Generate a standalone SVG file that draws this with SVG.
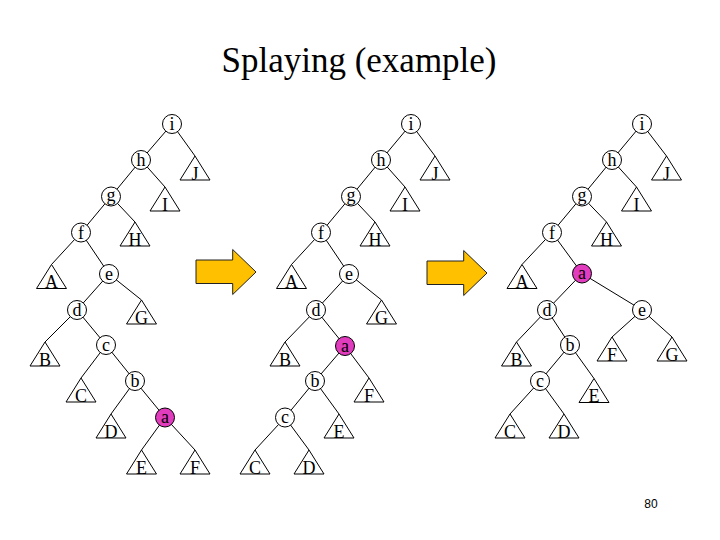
<svg xmlns="http://www.w3.org/2000/svg" width="720" height="540" viewBox="0 0 720 540">
<style>
.edge{stroke:#000;stroke-width:1;fill:none}
.nd{fill:#fff;stroke:#000;stroke-width:1}
.hl{fill:#E13BBE;stroke:#000;stroke-width:1}
.tri{fill:#fff;stroke:#000;stroke-width:1}
.lb{font-family:"Liberation Serif","Times New Roman",serif;font-size:18px;text-anchor:middle;fill:#000}
.tl{font-family:"Liberation Serif","Times New Roman",serif;font-size:18px;text-anchor:middle;fill:#000}
.arr{fill:#FFC000;stroke:#222;stroke-width:1}
</style>
<defs>
<polygon id="tri" class="tri" points="0,0 -15,24 15,24"/>
<path id="arrow" class="arr" d="M0,0 H36.7 V-10.5 L60,12 L36.7,34.5 V23.5 H0 Z"/>
</defs>
<rect width="720" height="540" fill="#fff"/>
<text x="359" y="72" font-family="Liberation Serif,'Times New Roman',serif" font-size="35" text-anchor="middle">Splaying (example)</text>

<g id="arrows">
<use href="#arrow" x="196" y="260"/>
<use href="#arrow" x="427" y="261"/>
</g>

<g id="connectors">
<!-- left tree -->
<line class="edge" x1="172" y1="124" x2="141" y2="160"/>
<line class="edge" x1="172" y1="124" x2="195" y2="156"/>
<line class="edge" x1="141" y1="160" x2="111" y2="196.5"/>
<line class="edge" x1="141" y1="160" x2="165" y2="187"/>
<line class="edge" x1="111" y1="196.5" x2="81" y2="232.5"/>
<line class="edge" x1="111" y1="196.5" x2="135" y2="222"/>
<line class="edge" x1="81" y1="232.5" x2="51.5" y2="264.5"/>
<line class="edge" x1="81" y1="232.5" x2="109" y2="274"/>
<line class="edge" x1="109" y1="274" x2="77" y2="310"/>
<line class="edge" x1="109" y1="274" x2="141.5" y2="300"/>
<line class="edge" x1="77" y1="310" x2="45" y2="342"/>
<line class="edge" x1="77" y1="310" x2="106" y2="345"/>
<line class="edge" x1="106" y1="345" x2="81" y2="378"/>
<line class="edge" x1="106" y1="345" x2="135" y2="381"/>
<line class="edge" x1="135" y1="381" x2="111" y2="414"/>
<line class="edge" x1="135" y1="381" x2="165" y2="417.5"/>
<line class="edge" x1="165" y1="417.5" x2="141.5" y2="450"/>
<line class="edge" x1="165" y1="417.5" x2="195" y2="450"/>
<!-- middle tree -->
<line class="edge" x1="411" y1="124" x2="381" y2="160"/>
<line class="edge" x1="411" y1="124" x2="435" y2="156"/>
<line class="edge" x1="381" y1="160" x2="351" y2="196.5"/>
<line class="edge" x1="381" y1="160" x2="405" y2="187"/>
<line class="edge" x1="351" y1="196.5" x2="321" y2="232.5"/>
<line class="edge" x1="351" y1="196.5" x2="375" y2="222"/>
<line class="edge" x1="321" y1="232.5" x2="291.5" y2="264.5"/>
<line class="edge" x1="321" y1="232.5" x2="349" y2="274"/>
<line class="edge" x1="349" y1="274" x2="316" y2="310"/>
<line class="edge" x1="349" y1="274" x2="381.5" y2="300"/>
<line class="edge" x1="316" y1="310" x2="285" y2="342"/>
<line class="edge" x1="316" y1="310" x2="345" y2="346"/>
<line class="edge" x1="345" y1="346" x2="315" y2="381"/>
<line class="edge" x1="345" y1="346" x2="369" y2="378"/>
<line class="edge" x1="315" y1="381" x2="285" y2="417.5"/>
<line class="edge" x1="315" y1="381" x2="339" y2="414"/>
<line class="edge" x1="285" y1="417.5" x2="255" y2="450"/>
<line class="edge" x1="285" y1="417.5" x2="309" y2="450"/>
<!-- right tree -->
<line class="edge" x1="642" y1="124" x2="612" y2="160"/>
<line class="edge" x1="642" y1="124" x2="666.5" y2="156"/>
<line class="edge" x1="612" y1="160" x2="582" y2="196.5"/>
<line class="edge" x1="612" y1="160" x2="636.5" y2="187"/>
<line class="edge" x1="582" y1="196.5" x2="552" y2="232.5"/>
<line class="edge" x1="582" y1="196.5" x2="606.5" y2="222"/>
<line class="edge" x1="552" y1="232.5" x2="522" y2="264.5"/>
<line class="edge" x1="552" y1="232.5" x2="582" y2="273.5"/>
<line class="edge" x1="582" y1="273.5" x2="547" y2="310"/>
<line class="edge" x1="582" y1="273.5" x2="642" y2="310"/>
<line class="edge" x1="547" y1="310" x2="516.5" y2="342"/>
<line class="edge" x1="547" y1="310" x2="570" y2="345"/>
<line class="edge" x1="570" y1="345" x2="540" y2="381"/>
<line class="edge" x1="570" y1="345" x2="594" y2="378.5"/>
<line class="edge" x1="540" y1="381" x2="510" y2="414"/>
<line class="edge" x1="540" y1="381" x2="564" y2="414"/>
<line class="edge" x1="642" y1="310" x2="612" y2="337"/>
<line class="edge" x1="642" y1="310" x2="672" y2="337"/>
</g>

<!-- left tree nodes -->
<g id="L-i"><circle class="nd" cx="172" cy="124" r="9.5"/><text class="lb" x="172" y="130">i</text></g>
<g id="L-h"><circle class="nd" cx="141" cy="160" r="9.5"/><text class="lb" x="141" y="166">h</text></g>
<g id="L-g"><circle class="nd" cx="111" cy="196.5" r="9.5"/><text class="lb" x="111" y="201">g</text></g>
<g id="L-f"><circle class="nd" cx="81" cy="232.5" r="9.5"/><text class="lb" x="81" y="238.5">f</text></g>
<g id="L-e"><circle class="nd" cx="109" cy="274" r="9.5"/><text class="lb" x="109" y="279.5">e</text></g>
<g id="L-d"><circle class="nd" cx="77" cy="310" r="9.5"/><text class="lb" x="77" y="316">d</text></g>
<g id="L-c"><circle class="nd" cx="106" cy="345" r="9.5"/><text class="lb" x="106" y="350.5">c</text></g>
<g id="L-b"><circle class="nd" cx="135" cy="381" r="9.5"/><text class="lb" x="135" y="387">b</text></g>
<g id="L-a"><circle class="hl" cx="165" cy="417.5" r="9.5"/><text class="lb" x="165" y="423">a</text></g>
<g id="L-J"><use href="#tri" x="195" y="156"/><text class="tl" x="195" y="179.5">J</text></g>
<g id="L-I"><use href="#tri" x="165" y="187"/><text class="tl" x="165" y="210.5">I</text></g>
<g id="L-H"><use href="#tri" x="135" y="222"/><text class="tl" x="135" y="245.5">H</text></g>
<g id="L-A"><use href="#tri" x="51.5" y="264.5"/><text class="tl" x="51.5" y="288">A</text></g>
<g id="L-G"><use href="#tri" x="141.5" y="300"/><text class="tl" x="141.5" y="323.5">G</text></g>
<g id="L-B"><use href="#tri" x="45" y="342"/><text class="tl" x="45" y="365.5">B</text></g>
<g id="L-C"><use href="#tri" x="81" y="378"/><text class="tl" x="81" y="401.5">C</text></g>
<g id="L-D"><use href="#tri" x="111" y="414"/><text class="tl" x="111" y="437.5">D</text></g>
<g id="L-E"><use href="#tri" x="141.5" y="450"/><text class="tl" x="141.5" y="473.5">E</text></g>
<g id="L-F"><use href="#tri" x="195" y="450"/><text class="tl" x="195" y="473.5">F</text></g>

<!-- middle tree nodes -->
<g id="M-i"><circle class="nd" cx="411" cy="124" r="9.5"/><text class="lb" x="411" y="130">i</text></g>
<g id="M-h"><circle class="nd" cx="381" cy="160" r="9.5"/><text class="lb" x="381" y="166">h</text></g>
<g id="M-g"><circle class="nd" cx="351" cy="196.5" r="9.5"/><text class="lb" x="351" y="201">g</text></g>
<g id="M-f"><circle class="nd" cx="321" cy="232.5" r="9.5"/><text class="lb" x="321" y="238.5">f</text></g>
<g id="M-e"><circle class="nd" cx="349" cy="274" r="9.5"/><text class="lb" x="349" y="279.5">e</text></g>
<g id="M-d"><circle class="nd" cx="316" cy="310" r="9.5"/><text class="lb" x="316" y="316">d</text></g>
<g id="M-a"><circle class="hl" cx="345" cy="346" r="9.5"/><text class="lb" x="345" y="351.5">a</text></g>
<g id="M-b"><circle class="nd" cx="315" cy="381" r="9.5"/><text class="lb" x="315" y="387">b</text></g>
<g id="M-c"><circle class="nd" cx="285" cy="417.5" r="9.5"/><text class="lb" x="285" y="423">c</text></g>
<g id="M-J"><use href="#tri" x="435" y="156"/><text class="tl" x="435" y="179.5">J</text></g>
<g id="M-I"><use href="#tri" x="405" y="187"/><text class="tl" x="405" y="210.5">I</text></g>
<g id="M-H"><use href="#tri" x="375" y="222"/><text class="tl" x="375" y="245.5">H</text></g>
<g id="M-A"><use href="#tri" x="291.5" y="264.5"/><text class="tl" x="291.5" y="288">A</text></g>
<g id="M-G"><use href="#tri" x="381.5" y="300"/><text class="tl" x="381.5" y="323.5">G</text></g>
<g id="M-B"><use href="#tri" x="285" y="342"/><text class="tl" x="285" y="365.5">B</text></g>
<g id="M-F"><use href="#tri" x="369" y="378"/><text class="tl" x="369" y="401.5">F</text></g>
<g id="M-E"><use href="#tri" x="339" y="414"/><text class="tl" x="339" y="437.5">E</text></g>
<g id="M-C"><use href="#tri" x="255" y="450"/><text class="tl" x="255" y="473.5">C</text></g>
<g id="M-D"><use href="#tri" x="309" y="450"/><text class="tl" x="309" y="473.5">D</text></g>

<!-- right tree nodes -->
<g id="R-i"><circle class="nd" cx="642" cy="124" r="9.5"/><text class="lb" x="642" y="130">i</text></g>
<g id="R-h"><circle class="nd" cx="612" cy="160" r="9.5"/><text class="lb" x="612" y="166">h</text></g>
<g id="R-g"><circle class="nd" cx="582" cy="196.5" r="9.5"/><text class="lb" x="582" y="201">g</text></g>
<g id="R-f"><circle class="nd" cx="552" cy="232.5" r="9.5"/><text class="lb" x="552" y="238.5">f</text></g>
<g id="R-a"><circle class="hl" cx="582" cy="273.5" r="9.5"/><text class="lb" x="582" y="279">a</text></g>
<g id="R-d"><circle class="nd" cx="547" cy="310" r="9.5"/><text class="lb" x="547" y="316">d</text></g>
<g id="R-e"><circle class="nd" cx="642" cy="310" r="9.5"/><text class="lb" x="642" y="315.5">e</text></g>
<g id="R-b"><circle class="nd" cx="570" cy="345" r="9.5"/><text class="lb" x="570" y="351">b</text></g>
<g id="R-c"><circle class="nd" cx="540" cy="381" r="9.5"/><text class="lb" x="540" y="386.5">c</text></g>
<g id="R-J"><use href="#tri" x="666.5" y="156"/><text class="tl" x="666.5" y="179.5">J</text></g>
<g id="R-I"><use href="#tri" x="636.5" y="187"/><text class="tl" x="636.5" y="210.5">I</text></g>
<g id="R-H"><use href="#tri" x="606.5" y="222"/><text class="tl" x="606.5" y="245.5">H</text></g>
<g id="R-A"><use href="#tri" x="522" y="264.5"/><text class="tl" x="522" y="288">A</text></g>
<g id="R-B"><use href="#tri" x="516.5" y="342"/><text class="tl" x="516.5" y="365.5">B</text></g>
<g id="R-F"><use href="#tri" x="612" y="337"/><text class="tl" x="612" y="360.5">F</text></g>
<g id="R-G"><use href="#tri" x="672" y="337"/><text class="tl" x="672" y="360.5">G</text></g>
<g id="R-E"><use href="#tri" x="594" y="378.5"/><text class="tl" x="594" y="402">E</text></g>
<g id="R-C"><use href="#tri" x="510" y="414"/><text class="tl" x="510" y="437.5">C</text></g>
<g id="R-D"><use href="#tri" x="564" y="414"/><text class="tl" x="564" y="437.5">D</text></g>

<text x="651" y="508" font-family="Liberation Sans,Arial,sans-serif" font-size="12" text-anchor="middle">80</text>
</svg>
